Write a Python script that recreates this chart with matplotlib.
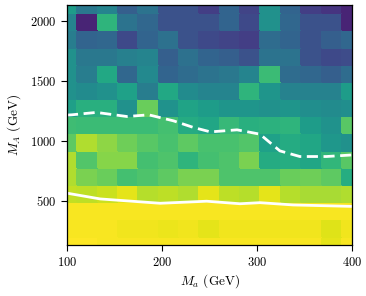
import numpy as np
import matplotlib
matplotlib.use("Agg")
import matplotlib.pyplot as plt

plt.rcParams['font.family'] = 'cmr10'
plt.rcParams['mathtext.fontset'] = 'cm'
plt.rcParams['axes.formatter.use_mathtext'] = True

# grid of the scan (cell centres)
m_a = np.linspace(100, 400, 15)
m_A = np.linspace(133, 2133, 15)

# cell values, top row first (viridis 0..1)
z_rows = [
    [0.55, 0.40, 0.45, 0.30, 0.38, 0.25, 0.25, 0.18, 0.32, 0.20, 0.50, 0.32, 0.18, 0.15, 0.10],
    [0.45, 0.10, 0.65, 0.38, 0.33, 0.25, 0.25, 0.25, 0.32, 0.22, 0.50, 0.33, 0.25, 0.25, 0.10],
    [0.42, 0.32, 0.33, 0.22, 0.32, 0.37, 0.25, 0.22, 0.20, 0.18, 0.35, 0.32, 0.25, 0.30, 0.33],
    [0.50, 0.40, 0.40, 0.43, 0.45, 0.30, 0.37, 0.32, 0.30, 0.25, 0.38, 0.38, 0.25, 0.22, 0.23],
    [0.50, 0.42, 0.60, 0.33, 0.47, 0.32, 0.35, 0.38, 0.40, 0.45, 0.68, 0.35, 0.33, 0.30, 0.35],
    [0.50, 0.48, 0.50, 0.57, 0.42, 0.60, 0.48, 0.45, 0.45, 0.65, 0.52, 0.44, 0.44, 0.44, 0.55],
    [0.56, 0.63, 0.63, 0.50, 0.77, 0.51, 0.58, 0.55, 0.52, 0.52, 0.50, 0.52, 0.49, 0.48, 0.49],
    [0.69, 0.68, 0.68, 0.68, 0.68, 0.70, 0.61, 0.59, 0.67, 0.63, 0.64, 0.65, 0.55, 0.51, 0.74],
    [0.75, 0.88, 0.83, 0.78, 0.74, 0.71, 0.75, 0.71, 0.71, 0.73, 0.57, 0.61, 0.59, 0.53, 0.50],
    [0.88, 0.73, 0.82, 0.82, 0.70, 0.72, 0.65, 0.70, 0.72, 0.80, 0.61, 0.62, 0.59, 0.66, 0.74],
    [0.88, 0.80, 0.77, 0.70, 0.72, 0.75, 0.80, 0.80, 0.72, 0.72, 0.72, 0.77, 0.78, 0.75, 0.62],
    [0.91, 0.90, 0.92, 0.96, 0.89, 0.90, 0.88, 0.96, 0.90, 0.89, 0.96, 0.89, 0.87, 0.87, 0.88],
    [0.99, 0.99, 0.99, 0.99, 0.99, 0.99, 0.99, 0.99, 0.99, 0.99, 0.99, 0.99, 0.99, 0.99, 0.99],
    [0.99, 0.99, 0.99, 0.98, 0.98, 0.97, 0.98, 0.96, 0.98, 0.98, 0.98, 0.98, 0.98, 0.95, 0.98],
    [1.00, 1.00, 0.99, 0.99, 0.99, 0.99, 0.99, 0.99, 0.99, 0.99, 0.99, 0.99, 0.99, 0.96, 0.99],
]

# solid limit curve
solid_x = [100, 135, 198, 247, 282, 303, 338, 400]
solid_y = [565, 517, 481, 498, 477, 486, 467, 455]

# dashed limit curve
dash_x = [100, 105, 131, 163, 186, 212, 233, 251, 279, 303, 324, 345, 373, 400]
dash_y = [1215, 1217, 1237, 1203, 1217, 1167, 1112, 1075, 1092, 1056, 917, 870, 870, 883]

z = np.array(z_rows[::-1])

fig = plt.figure(figsize=(3.66, 2.96), dpi=100)
ax = fig.add_axes([0.183, 0.172, 0.779, 0.812])
ax.pcolormesh(m_a, m_A, z, cmap='viridis', vmin=0, vmax=1, shading='nearest',
              edgecolor='face', linewidth=0.3)
ax.plot(solid_x, solid_y, color='white', lw=2)
ax.plot(dash_x, dash_y, color='white', lw=2, dashes=(4, 2))

ax.set_xlim(100, 400)
ax.set_ylim(133, 2133)
ax.set_xticks([100, 200, 300, 400])
ax.set_yticks([500, 1000, 1500, 2000])
ax.tick_params(labelsize=9, length=4, width=0.8)
ax.set_xlabel(r'$M_a$ (GeV)', fontsize=9.5, labelpad=3)
ax.set_ylabel(r'$M_A$ (GeV)', fontsize=9.5, labelpad=5)
for s in ax.spines.values():
    s.set_linewidth(0.9)

fig.savefig('out.png', dpi=100)
